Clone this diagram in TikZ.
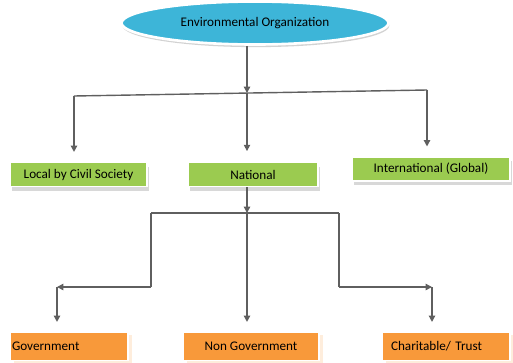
\documentclass[tikz,border=0pt]{standalone}
\usepackage{fontspec}
\setmainfont{Carlito}
\usetikzlibrary{shapes.geometric}
\usetikzlibrary{shadows}
\usetikzlibrary{arrows.meta}

\definecolor{orgblue}{RGB}{61,181,216}
\definecolor{boxgreen}{RGB}{155,203,80}
\definecolor{boxorange}{RGB}{248,153,58}
\definecolor{linegray}{RGB}{95,95,95}

\tikzset{
  greenbox/.style={rectangle, fill=boxgreen, draw=white, line width=1pt,
    minimum height=0.48cm, font=\fontsize{7.5}{9}\selectfont,
    drop shadow={shadow xshift=1pt, shadow yshift=-2.5pt, fill=black!30}},
  orangebox/.style={rectangle, fill=boxorange, draw=white, line width=1pt,
    minimum height=0.56cm, font=\fontsize{7.5}{9}\selectfont,
    drop shadow={shadow xshift=2pt, shadow yshift=-1.5pt, fill=boxorange!35}},
  link/.style={draw=linegray, line width=0.8pt},
  conn/.style={link, -{Triangle[length=3.6pt,width=3.6pt]}}
}

\begin{document}
\begin{tikzpicture}[x=0.02cm, y=-0.02cm]
  \useasboundingbox (0,0) rectangle (513,362);

  % Top ellipse
  \node[ellipse, fill=orgblue, draw=white, line width=1.5pt,
        minimum width=5.34cm, minimum height=0.86cm,
        font=\fontsize{7.5}{9}\selectfont,
        drop shadow={shadow xshift=0.5pt, shadow yshift=-1.5pt, fill=black!35}]
        (org) at (255,23) {Environmental Organization};

  % First level
  \node[greenbox, minimum width=2.74cm] (local) at (78.5,174.5) {Local by Civil Society};
  \node[greenbox, minimum width=2.6cm] (national) at (253,174.5) {National};
  \node[greenbox, minimum width=3.16cm] (intl) at (431,169) {International (Global)};

  % Second level
  \node[orangebox, text width=2.28cm, inner xsep=0.04cm, align=left] (gov) at (69,346.5) {Government};
  \node[orangebox, minimum width=2.72cm] (nongov) at (251,346.5) {Non Government};
  \node[orangebox, text width=2.2cm, inner xsep=0.18cm, align=left] (charity) at (446,346.5) {Charitable/ Trust};

  % Junctions
  \coordinate (top) at (247,93);
  \coordinate (barL) at (74,96);
  \coordinate (barR) at (427,90);
  \coordinate (mid) at (247,213);
  \coordinate (midL) at (151,213);
  \coordinate (midR) at (339,213);
  \coordinate (elbL) at (57,287);
  \coordinate (elbR) at (432,287);

  % Ellipse to first level
  \draw[conn] (org.south -| top) -- (top);
  \draw[link] (barL) -- (barR);
  \draw[conn, shorten >=5.5pt] (barL) -- (barL |- local.north);
  \draw[conn, shorten >=6pt] (top) -- (top |- national.north);
  \draw[conn, shorten >=5.5pt] (barR) -- (barR |- intl.north);

  % National to second level
  \draw[conn] (national.south -| mid) -- (mid);
  \draw[link] (midL) -- (midR);
  \draw[conn, shorten >=5.5pt] (mid) -- (mid |- nongov.north);
  \draw[link] (midL) -- (midL |- elbL);
  \draw[conn] (midL |- elbL) -- (elbL);
  \draw[conn, shorten >=5.5pt] (elbL) -- (elbL |- gov.north);
  \draw[link] (midR) -- (midR |- elbR);
  \draw[conn] (midR |- elbR) -- (elbR);
  \draw[conn, shorten >=5.5pt] (elbR) -- (elbR |- charity.north);
\end{tikzpicture}
\end{document}
